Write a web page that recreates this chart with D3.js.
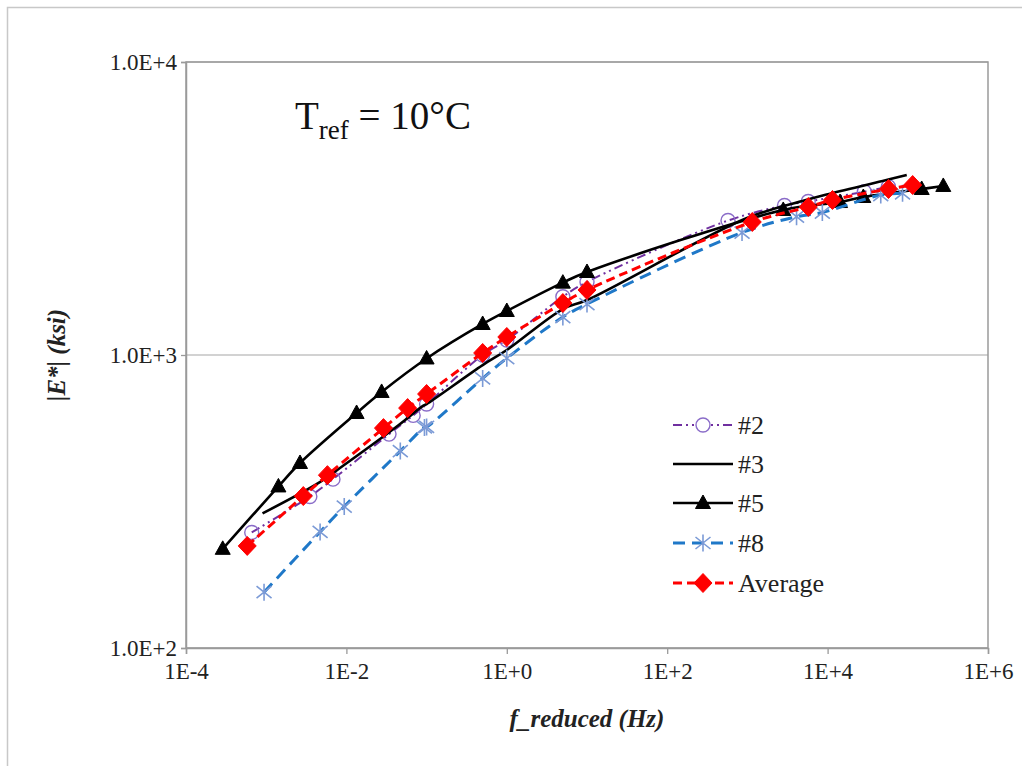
<!DOCTYPE html>
<html><head><meta charset="utf-8">
<script src="https://cdn.jsdelivr.net/npm/d3@7"></script>
<style>body{margin:0;background:#fff}svg{display:block}</style>
</head><body>
<svg id="c" width="1022" height="766"></svg>
<script>
// ---- data (reduced frequency in Hz, |E*| in ksi) ----
const f2 = [6.6e-4, 3.5e-3, 6.8e-3, 0.034, 0.068, 0.1, 0.5, 1, 5, 10, 573, 2900, 5730, 28700, 57300];
const e2 = [248, 329, 377, 537, 622, 680, 1000, 1125, 1581, 1775, 2877, 3237, 3340, 3608, 3754];
const f3 = [9e-4, 4.5e-3, 9e-3, 0.045, 0.09, 0.1, 0.5, 1, 5, 10, 970, 4850, 9700, 48500, 97000];
const e3 = [288, 366, 418, 577, 670, 680, 924, 1040, 1435, 1540, 2929, 3354, 3530, 3925, 4115];
const f5 = [2.87e-4, 1.42e-3, 2.64e-3, 0.0134, 0.0275, 0.1, 0.5, 1, 5, 10, 2800, 14300, 27900, 149000, 277000];
const e5 = [218, 356, 428, 634, 748, 973, 1276, 1413, 1766, 1920, 3126, 3327, 3461, 3686, 3775];
const f8 = [9.4e-4, 4.7e-3, 9.4e-3, 0.047, 0.094, 0.1, 0.5, 1, 5, 10, 857, 4100, 8600, 46000, 86000];
const e8 = [155, 249, 304, 470, 566, 568, 832, 975, 1348, 1493, 2618, 2965, 3064, 3516, 3564];
const fAvg = [5.8e-4, 2.9e-3, 5.8e-3, 0.029, 0.058, 0.1, 0.5, 1, 5, 10, 1150, 5750, 11500, 57500, 115000];
const eAvg = [223, 330, 389, 563, 659, 736, 1016, 1152, 1504, 1667, 2844, 3200, 3381, 3686, 3803];
const seriesNames = ["#2", "#3", "#5", "#8", "Average"];
const xTickValues = [1e-4, 1e-2, 1e0, 1e2, 1e4, 1e6];
const xTickLabels = ["1E-4", "1E-2", "1E+0", "1E+2", "1E+4", "1E+6"];
const yTickValues = [100, 1000, 10000];
const yTickLabels = ["1.0E+2", "1.0E+3", "1.0E+4"];

const svg = d3.select("#c");
const FONT = "'Liberation Serif','Times New Roman',serif";
const L = 186, R = 988, T = 62, B = 648;
const x = d3.scaleLog().domain([1e-4, 1e6]).range([L, R]);
const y = d3.scaleLog().domain([100, 10000]).range([B, T]);

// outer frame (left/top)
svg.append("path").attr("d", "M7.5,766 L7.5,7.5 L1022,7.5").attr("fill", "none").attr("stroke", "#c8c8c8").attr("stroke-width", 1.5);

// gridlines
svg.append("g").selectAll("line").data(yTickValues).join("line")
  .attr("x1", L).attr("x2", R).attr("y1", d => y(d)).attr("y2", d => y(d))
  .attr("stroke", "#a6a6a6").attr("stroke-width", 1.2);
// plot border
svg.append("rect").attr("x", L).attr("y", T).attr("width", R - L).attr("height", B - T)
  .attr("fill", "none").attr("stroke", "#9a9a9a").attr("stroke-width", 1.5);

// axes
const xAxis = d3.axisBottom(x).tickValues(xTickValues).tickSize(6)
  .tickFormat((d, i) => xTickLabels[i]);
const gx = svg.append("g").attr("transform", `translate(0,${B})`).call(xAxis);
gx.select(".domain").attr("stroke", "#9a9a9a").attr("stroke-width", 1.5);
gx.selectAll(".tick line").attr("stroke", "#9a9a9a").attr("stroke-width", 1.3);
gx.selectAll(".tick text").attr("font-family", FONT).attr("font-size", 23).attr("fill", "#222").attr("dy", "0.95em");

const yAxis = d3.axisLeft(y).tickValues(yTickValues).tickSize(5)
  .tickFormat((d, i) => yTickLabels[i]);
const gy = svg.append("g").attr("transform", `translate(${L},0)`).call(yAxis);
gy.select(".domain").attr("stroke", "#9a9a9a").attr("stroke-width", 1.5);
gy.selectAll(".tick line").attr("stroke", "#9a9a9a").attr("stroke-width", 1.3);
gy.selectAll(".tick text").attr("font-family", FONT).attr("font-size", 23).attr("fill", "#222").attr("x", -9);

// axis titles
svg.append("text").attr("x", (L + R) / 2).attr("y", 727).attr("text-anchor", "middle")
  .attr("font-family", FONT).attr("font-size", 25).attr("font-weight", "bold").attr("font-style", "italic")
  .attr("fill", "#222").text("f_reduced (Hz)");
svg.append("text").attr("transform", `translate(65,${(T + B) / 2}) rotate(-90)`).attr("text-anchor", "middle")
  .attr("font-family", FONT).attr("font-size", 25).attr("font-weight", "bold").attr("font-style", "italic")
  .attr("fill", "#222").text("|E*| (ksi)");

// annotation
const ann = svg.append("text").attr("x", 295).attr("y", 129).attr("font-family", FONT).attr("font-size", 39).attr("fill", "#111");
ann.append("tspan").text("T");
ann.append("tspan").attr("font-size", 27).attr("dy", 10).text("ref");
ann.append("tspan").attr("dy", -10).text(" = 10°C");

// markers
const markers = {
  circle: "M7,0 A7,7 0 1,1 -7,0 A7,7 0 1,1 7,0Z",
  triangle: "M0,-8 L7.5,5.5 L-7.5,5.5Z",
  star: "M0,-8.5 L0,8.5 M-7.5,-6 L7.5,6 M-7.5,6 L7.5,-6",
  diamond: "M0,-9.5 L9,0 L0,9.5 L-9,0Z"
};

const series = [
  {name: seriesNames[0], f: f2, e: e2, color: "#7030A0", width: 2, dash: "9,4,2,4,2,4", marker: "circle", mFill: "none", mStroke: "#8a6cc8", mW: 1.4},
  {name: seriesNames[1], f: f3, e: e3, color: "#000", width: 2.6, dash: null, marker: null},
  {name: seriesNames[2], f: f5, e: e5, color: "#000", width: 2.6, dash: null, marker: "triangle", mFill: "#000", mStroke: "#000", mW: 1},
  {name: seriesNames[3], f: f8, e: e8, color: "#1f78c8", width: 3, dash: "12,7", marker: "star", mFill: "none", mStroke: "#7b9ad6", mW: 1.6},
  {name: seriesNames[4], f: fAvg, e: eAvg, color: "#ff0000", width: 3, dash: "9,5", marker: "diamond", mFill: "#ff0000", mStroke: "#ff0000", mW: 1}
];

const line = d3.line().x(d => x(d[0])).y(d => y(d[1])).curve(d3.curveCatmullRom.alpha(0.5));

series.forEach(s => {
  const pts = s.f.map((v, i) => [v, s.e[i]]);
  const g = svg.append("g");
  g.append("path").attr("d", line(pts)).attr("fill", "none").attr("stroke", s.color)
    .attr("stroke-width", s.width).attr("stroke-dasharray", s.dash);
  if (s.marker) {
    g.selectAll("path.m").data(pts).join("path").attr("class", "m")
      .attr("transform", d => `translate(${x(d[0])},${y(d[1])})`)
      .attr("d", markers[s.marker]).attr("fill", s.mFill).attr("stroke", s.mStroke).attr("stroke-width", s.mW);
  }
});

// legend
const leg = svg.append("g");
const legY = [425, 464, 503, 543, 583];
series.forEach((s, i) => {
  const yy = legY[i];
  leg.append("line").attr("x1", 673).attr("x2", 733).attr("y1", yy).attr("y2", yy)
    .attr("stroke", s.color).attr("stroke-width", s.width).attr("stroke-dasharray", s.dash);
  if (s.marker) {
    leg.append("path").attr("transform", `translate(703,${yy})`).attr("d", markers[s.marker])
      .attr("fill", s.mFill === "none" ? "#fff" : s.mFill).attr("stroke", s.mStroke).attr("stroke-width", s.mW);
  }
  leg.append("text").attr("x", 738).attr("y", yy).attr("dy", "0.35em")
    .attr("font-family", FONT).attr("font-size", 26).attr("fill", "#222").text(s.name);
});
</script>
</body></html>
